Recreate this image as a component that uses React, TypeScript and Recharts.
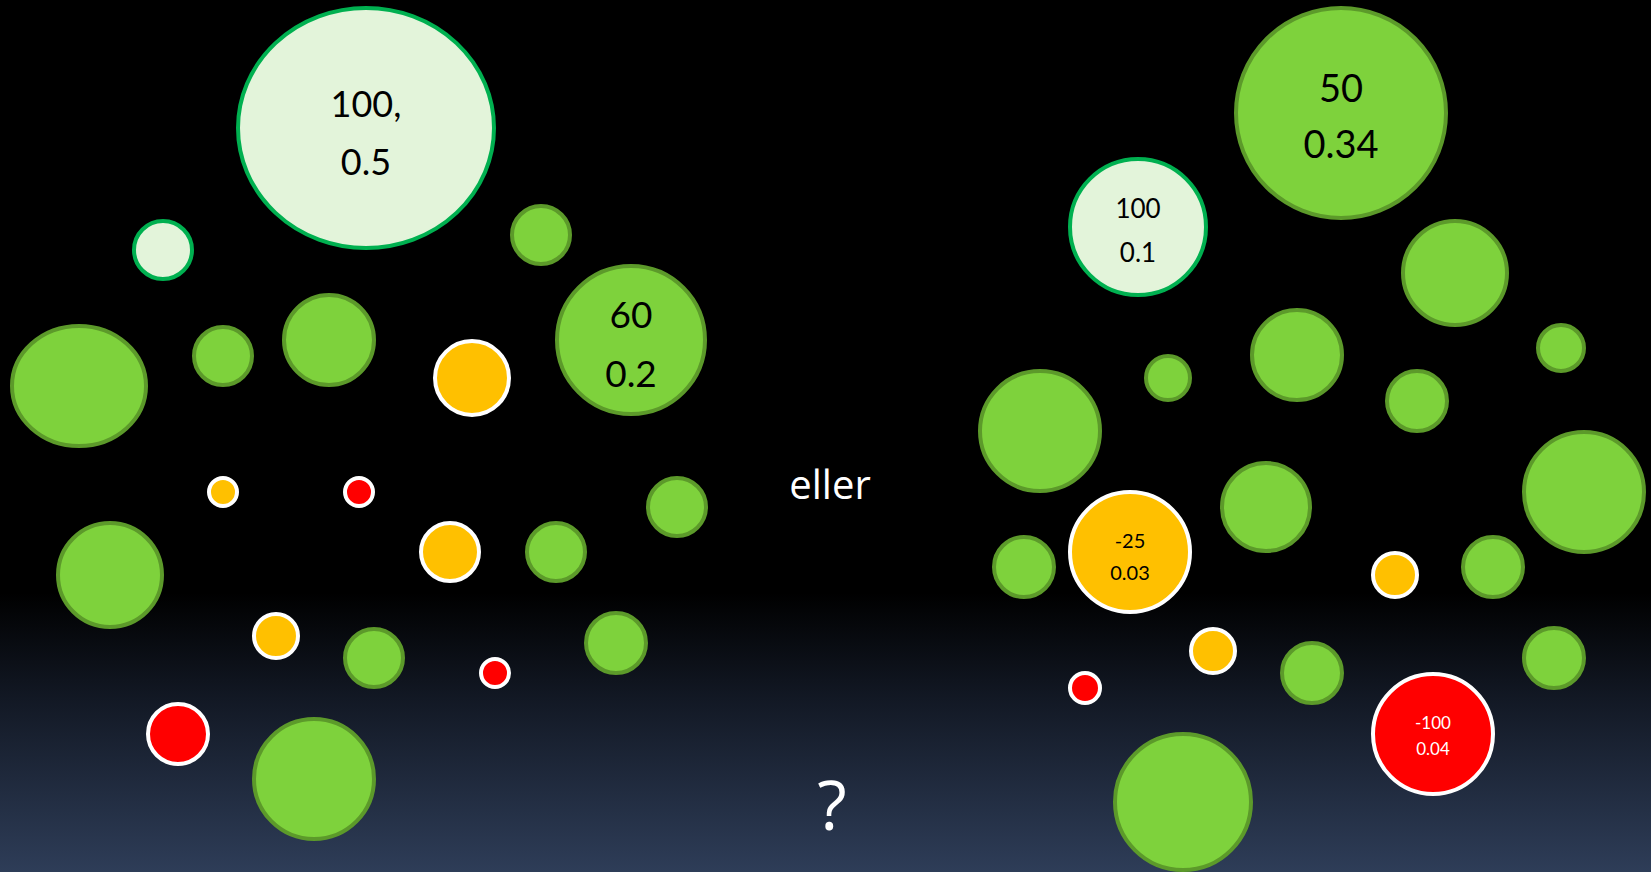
import React from 'react';
import { ScatterChart, Scatter, XAxis, YAxis } from 'recharts';

// slide is 1651 x 872, axes map 1 unit to 1px
const W = 1651;
const H = 872;

// green = positive, pale = strongly positive, orange = slightly negative, red = negative
const greenBubbles = [
  { x: 541, y: 235, r: 31 },
  { x: 79, y: 386, rx: 69, ry: 62 },
  { x: 223, y: 356, r: 31 },
  { x: 329, y: 340, r: 47 },
  { x: 631, y: 340, r: 76, top: '60', bottom: '0.2' },
  { x: 677, y: 507, r: 31 },
  { x: 110, y: 575, r: 54 },
  { x: 556, y: 552, r: 31 },
  { x: 374, y: 658, r: 31 },
  { x: 616, y: 643, r: 32 },
  { x: 314, y: 779, r: 62 },
  { x: 1341, y: 113, r: 107, top: '50', bottom: '0.34' },
  { x: 1455, y: 273, r: 54 },
  { x: 1561, y: 348, r: 25 },
  { x: 1168, y: 378, r: 24 },
  { x: 1297, y: 355, r: 47 },
  { x: 1417, y: 401, r: 32 },
  { x: 1040, y: 431, r: 62 },
  { x: 1584, y: 492, r: 62 },
  { x: 1266, y: 507, r: 46 },
  { x: 1024, y: 567, r: 32 },
  { x: 1493, y: 567, r: 32 },
  { x: 1312, y: 673, r: 32 },
  { x: 1554, y: 658, r: 32 },
  { x: 1183, y: 802, r: 70 },
];

const paleBubbles = [
  { x: 366, y: 128, rx: 130, ry: 122, top: '100,', bottom: '0.5' },
  { x: 163, y: 250, r: 31 },
  { x: 1138, y: 227, r: 70, top: '100', bottom: '0.1' },
];

const orangeBubbles = [
  { x: 472, y: 378, r: 39 },
  { x: 223, y: 492, r: 16 },
  { x: 450, y: 552, r: 31 },
  { x: 276, y: 636, r: 24 },
  { x: 1130, y: 552, r: 62, top: '-25', bottom: '0.03' },
  { x: 1395, y: 575, r: 24 },
  { x: 1213, y: 651, r: 24 },
];

const redBubbles = [
  { x: 359, y: 492, r: 16 },
  { x: 495, y: 673, r: 16 },
  { x: 178, y: 734, r: 32 },
  { x: 1085, y: 688, r: 17 },
  { x: 1433, y: 734, r: 62, top: '-100', bottom: '0.04' },
];

const middleWord = 'eller';
const bottomWord = '?';

// label text sizing per labelled bubble (keyed by first line)
const labelStyle: Record<string, { size: number; dy1: number; dy2: number }> = {
  '100,': { size: 36, dy1: -11, dy2: 47 },
  '60': { size: 37, dy1: -12, dy2: 47 },
  '50': { size: 38, dy1: -11, dy2: 45 },
  '100': { size: 26, dy1: -9, dy2: 35 },
  '-25': { size: 20, dy1: -4, dy2: 28 },
  '-100': { size: 17, dy1: -5, dy2: 21 },
};

const makeShape = (fill: string, stroke: string, textColor: string) => (props: any) => {
  const { cx, cy, payload } = props;
  const rx = (payload.rx ?? payload.r) - 2;
  const ry = (payload.ry ?? payload.r) - 2;
  const st = payload.top ? labelStyle[payload.top] : null;
  return (
    <g>
      <ellipse cx={cx} cy={cy} rx={rx} ry={ry} fill={fill} stroke={stroke} strokeWidth={4} />
      {st && (
        <text
          textAnchor="middle"
          fill={textColor}
          fontSize={st.size}
          fontFamily="Lato, 'Open Sans', sans-serif"
        >
          <tspan x={cx} y={cy + st.dy1}>{payload.top}</tspan>
          <tspan x={cx} y={cy + st.dy2}>{payload.bottom}</tspan>
        </text>
      )}
    </g>
  );
};

const App: React.FC = () => {
  return (
    <div
      style={{
        position: 'absolute',
        left: 0,
        top: 0,
        width: W,
        height: H,
        background: 'linear-gradient(to bottom, #000 0%, #000 68%, #121824 80%, #2e3d58 100%)',
        overflow: 'hidden',
      }}
    >
      <ScatterChart width={W} height={H} margin={{ top: 0, right: 0, bottom: 0, left: 0 }}>
        <XAxis type="number" dataKey="x" domain={[0, W]} hide allowDataOverflow />
        <YAxis type="number" dataKey="y" domain={[0, H]} reversed hide width={0} allowDataOverflow />
        <Scatter data={greenBubbles} shape={makeShape('#7ed23c', '#5c9a2a', '#000')} isAnimationActive={false} />
        <Scatter data={paleBubbles} shape={makeShape('#e3f4da', '#00b050', '#000')} isAnimationActive={false} />
        <Scatter data={orangeBubbles} shape={makeShape('#ffc000', '#ffffff', '#000')} isAnimationActive={false} />
        <Scatter data={redBubbles} shape={makeShape('#ff0000', '#ffffff', '#fff')} isAnimationActive={false} />
      </ScatterChart>
      <div
        style={{
          position: 'absolute',
          left: 0,
          width: 1660,
          top: 460,
          textAlign: 'center',
          color: '#fff',
          fontFamily: "'Open Sans', sans-serif",
          fontSize: 40,
          lineHeight: '48px',
        }}
      >
        {middleWord}
      </div>
      <div
        style={{
          position: 'absolute',
          left: 0,
          width: 1664,
          top: 764,
          textAlign: 'center',
          color: '#fff',
          fontFamily: "'Open Sans', sans-serif",
          fontSize: 68,
          lineHeight: '80px',
        }}
      >
        {bottomWord}
      </div>
    </div>
  );
};

export default App;
